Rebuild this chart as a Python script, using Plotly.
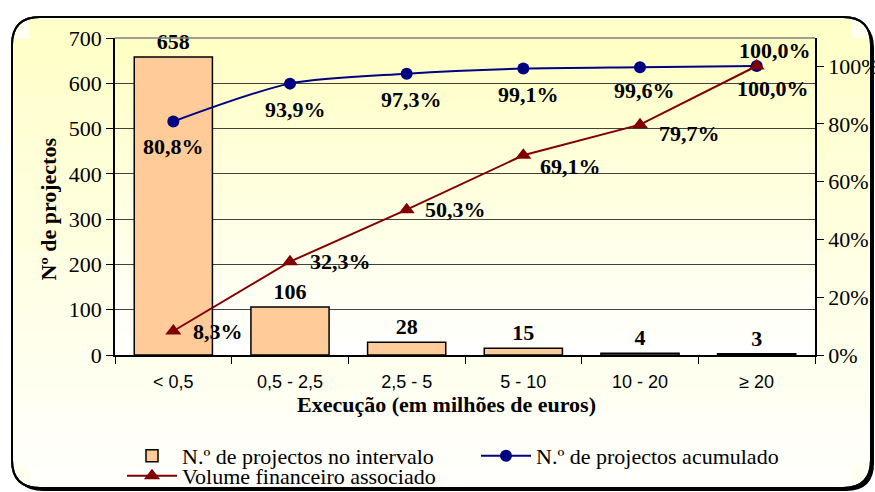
import plotly.graph_objects as go

categories = ["< 0,5", "0,5 - 2,5", "2,5 - 5", "5 - 10", "10 - 20", "≥ 20"]
n_projects = [658, 106, 28, 15, 4, 3]
cum_projects_pct = [80.8, 93.9, 97.3, 99.1, 99.6, 100.0]
volume_pct = [8.3, 32.3, 50.3, 69.1, 79.7, 100.0]
y2_ticks = [0, 20, 40, 60, 80, 100]

def pct_label(v):
    return f"{v:.1f}".replace(".", ",") + "%"

W, H = 875, 492
L, R, T, B = 115, 815, 38, 355

def X(px):
    return (px - L) / (R - L)

def Y(py):
    return (B - py) / (B - T)

SERIF = "Liberation Serif"
SANS = "Liberation Sans"
FS = 22

fig = go.Figure()

fig.add_trace(go.Bar(
    x=categories, y=n_projects, name="N.º de projectos no intervalo",
    marker=dict(color="#FFCC99", line=dict(color="black", width=1.5)),
    width=0.67,
    text=[str(v) for v in n_projects], textposition="outside",
    textfont=dict(family=SERIF, size=FS, color="black", weight="bold"),
    cliponaxis=False, legend="legend",
))

fig.add_trace(go.Scatter(
    x=categories, y=cum_projects_pct, name="N.º de projectos acumulado",
    yaxis="y2", mode="lines+markers",
    line=dict(color="#000080", width=2, shape="spline", smoothing=0.8),
    marker=dict(symbol="circle", size=12, color="#000080"),
    cliponaxis=False, legend="legend2",
))

fig.add_trace(go.Scatter(
    x=categories, y=volume_pct, name="Volume financeiro associado",
    yaxis="y2", mode="lines+markers",
    line=dict(color="#800000", width=2),
    marker=dict(symbol="triangle-up", size=14, color="#800000"),
    cliponaxis=False, legend="legend3",
))

shapes = []

def rounded_path(x0, y0, x1, y1, r):
    rx = r / (R - L)
    ry = r / (B - T)
    a, b, c, d = X(x0), X(x1), Y(y0), Y(y1)
    return (f"M {a+rx},{c} L {b-rx},{c} Q {b},{c} {b},{c-ry} "
            f"L {b},{d+ry} Q {b},{d} {b-rx},{d} L {a+rx},{d} "
            f"Q {a},{d} {a},{d+ry} L {a},{c-ry} Q {a},{c} {a+rx},{c} Z")

shapes.append(dict(type="path", xref="paper", yref="paper", layer="below",
                   path=rounded_path(15, 20, 874, 491, 28),
                   fillcolor="black", line=dict(width=0)))
shapes.append(dict(type="path", xref="paper", yref="paper", layer="below",
                   path=rounded_path(12, 17, 871, 488, 28),
                   fillcolor="#FFFFF0", line=dict(color="black", width=2)))
nb = 24
top_px, bot_px = 19, 486
for i in range(nb):
    y0 = top_px + (bot_px - top_px) * i / nb
    y1 = top_px + (bot_px - top_px) * (i + 1) / nb
    t = i / (nb - 1)
    bcol = int(200 + (252 - 200) * t)
    color = f"rgb(255,255,{bcol})"
    x0p, x1p = 14, 869
    if i == 0 or i == nb - 1:
        x0p, x1p = 30, 852
    shapes.append(dict(type="rect", xref="paper", yref="paper", layer="below",
                       x0=X(x0p), x1=X(x1p), y0=Y(y1), y1=Y(y0),
                       fillcolor=color, line=dict(width=0)))
shapes.append(dict(type="path", xref="paper", yref="paper", layer="below",
                   path=rounded_path(12, 17, 871, 488, 28),
                   fillcolor="rgba(0,0,0,0)", line=dict(color="black", width=2)))
nb2 = 30
for i in range(nb2):
    t = i / (nb2 - 1)
    bcol = int(196 + (255 - 196) * t)
    shapes.append(dict(type="rect", xref="paper", yref="paper", layer="below",
                       x0=0, x1=1, y0=1 - (i + 1) / nb2, y1=1 - i / nb2,
                       fillcolor=f"rgb(255,255,{bcol})", line=dict(width=0)))
shapes.append(dict(type="line", xref="paper", yref="paper", layer="above",
                   x0=0, x1=1, y0=1, y1=1, line=dict(color="#808080", width=1.5)))

lab_font = dict(family=SERIF, size=FS, color="black", weight="bold")
annotations = [
    dict(text="Nº de projectos", xref="paper", yref="paper",
         x=X(33), y=Y(209), textangle=-90, showarrow=False,
         font=dict(family=SERIF, size=22, color="black", weight="bold")),
    dict(text="Execução (em milhões de euros)", xref="paper", yref="paper",
         x=X(446), y=Y(419), showarrow=False,
         font=dict(family=SERIF, size=22, color="black", weight="bold")),
]
blue_shift = [(0, -25), (5, -26), (5, -26), (5, -26), (4, -23), (16, -22)]
for c, v, (dx, dy) in zip(categories, cum_projects_pct, blue_shift):
    annotations.append(dict(text=pct_label(v), x=c, y=v, xref="x", yref="y2",
                            showarrow=False, xanchor="center", yanchor="middle",
                            xshift=dx, yshift=dy, font=lab_font))
red_pos = [("left", 18, 0), ("left", 18, 0), ("left", 16, 0), ("left", 15, -11),
           ("left", 17, -9), ("center", 18, 16)]
for c, v, (anc, dx, dy) in zip(categories, volume_pct, red_pos):
    annotations.append(dict(text=pct_label(v), x=c, y=v, xref="x", yref="y2",
                            showarrow=False, xanchor=anc, yanchor="middle",
                            xshift=dx, yshift=dy, font=lab_font))

leg_common = dict(
    orientation="v", xref="container", yref="container",
    xanchor="left", yanchor="top", bgcolor="rgba(0,0,0,0)",
    font=dict(family=SERIF, size=FS, color="black"),
    tracegroupgap=0, itemwidth=50,
)

fig.update_layout(
    width=W, height=H,
    margin=dict(l=L, r=W - R, t=T, b=H - B, pad=0, autoexpand=False),
    paper_bgcolor="white",
    plot_bgcolor="rgba(0,0,0,0)",
    showlegend=True,
    shapes=shapes,
    annotations=annotations,
    xaxis=dict(
        type="category", tickson="boundaries", ticks="outside", ticklen=7,
        tickcolor="black", showline=True, linecolor="black", linewidth=1.5,
        tickfont=dict(family=SANS, size=18, color="black"),
        showgrid=False, ticklabelstandoff=10,
    ),
    yaxis=dict(
        range=[0, 700], dtick=100, ticks="outside", ticklen=7,
        tickcolor="black", showline=True, linecolor="black", linewidth=1.5,
        gridcolor="#404040", gridwidth=1, zeroline=False,
        tickfont=dict(family=SERIF, size=FS, color="black"),
    ),
    yaxis2=dict(
        overlaying="y", side="right", range=[0, 100 * (B - T) / (B - 66)],
        tickvals=y2_ticks, ticktext=[f"{v}%" for v in y2_ticks],
        ticks="outside", ticklen=7, tickcolor="black",
        showline=True, linecolor="black", linewidth=1.5,
        showgrid=False, zeroline=False,
        tickfont=dict(family=SERIF, size=FS, color="black"),
    ),
    legend=dict(x=122 / W, y=1 - 435 / H, **leg_common),
    legend2=dict(x=476 / W, y=1 - 435 / H, **leg_common),
    legend3=dict(x=122 / W, y=1 - 455 / H, **leg_common),
)

fig.write_html("out.html")
